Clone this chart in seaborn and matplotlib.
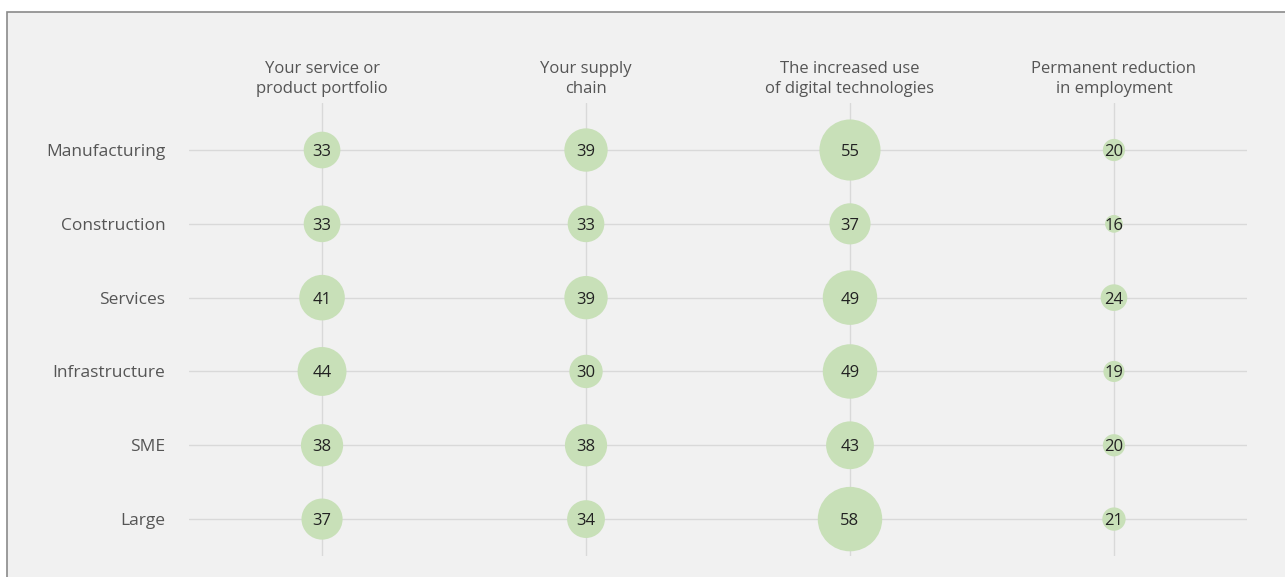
import numpy as np
import pandas as pd
import matplotlib
matplotlib.use("Agg")
import matplotlib.pyplot as plt
import seaborn as sns
from matplotlib.patches import Rectangle

# data
rows = ["Manufacturing", "Construction", "Services", "Infrastructure", "SME", "Large"]
columns = ["Your service or\nproduct portfolio", "Your supply\nchain",
           "The increased use\nof digital technologies", "Permanent reduction\nin employment"]
portfolio = [33, 33, 41, 44, 38, 37]
supply_chain = [39, 33, 39, 30, 38, 34]
digital = [55, 37, 49, 49, 43, 58]
employment = [20, 16, 24, 19, 20, 21]

df = pd.DataFrame({"sector": rows, columns[0]: portfolio, columns[1]: supply_chain,
                   columns[2]: digital, columns[3]: employment})
long = df.melt(id_vars="sector", var_name="topic", value_name="value")
long["area"] = long["value"] ** 2

sns.set_style("white")
plt.rcParams["font.family"] = ["Open Sans", "DejaVu Sans"]

W, H = 1285, 577
fig = plt.figure(figsize=(W / 100, H / 100), dpi=100)
fig.patch.set_facecolor("white")

# grey panel with a border on the top and left only (it runs off the image)
bg = fig.add_axes([0, 0, 1, 1], zorder=-10)
bg.set_xlim(0, W)
bg.set_ylim(H, 0)
bg.axis("off")
bg.add_patch(Rectangle((7, 12), W + 50, H + 50, facecolor="#f1f1f1",
                       edgecolor="#8a8a8a", lw=1.2))

ax = fig.add_axes([189 / W, 1 - 556 / H, 1058 / W, 453 / H])
ax.set_facecolor("none")

vmax = max(digital)
sns.scatterplot(data=long, x="topic", y="sector", size="area",
                sizes=(0, 0.64 * vmax ** 2), size_norm=(0, vmax ** 2),
                color="#c8e0b8", edgecolor="none", alpha=1, legend=False, ax=ax, zorder=3)

xpos = {c: i for i, c in enumerate(columns)}
ypos = {r: i for i, r in enumerate(rows)}
for _, r in long.iterrows():
    ax.text(xpos[r["topic"]], ypos[r["sector"]], f"{r['value']}", ha="center",
            va="center_baseline", fontsize=12, color="#222222", zorder=4)

ax.set_xlim(-0.504, 3.504)
ax.set_ylim(5.5, -0.637)
ax.grid(True, color="#d9d9d9", lw=1)
ax.set_axisbelow(True)
for s in ax.spines.values():
    s.set_visible(False)
ax.xaxis.tick_top()
ax.tick_params(axis="x", length=0, pad=4, labelsize=12, labelcolor="#555555")
ax.tick_params(axis="y", length=0, pad=17, labelsize=12.5, labelcolor="#555555")
for lbl in ax.get_xticklabels():
    lbl.set_linespacing(1.4)
ax.set_xlabel("")
ax.set_ylabel("")

fig.savefig("out.png", dpi=100)
